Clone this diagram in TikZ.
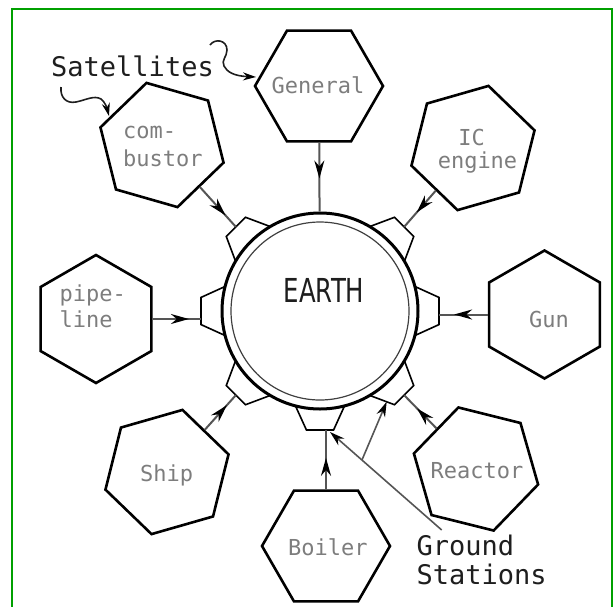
\documentclass[tikz,border=0pt]{standalone}
\usepackage{fontspec}
\usepackage{graphicx}
\usetikzlibrary{shapes.geometric,arrows.meta,decorations.markings,calc}
\newfontfamily\monofont{DejaVu Sans Mono}
\newfontfamily\earthfont{DejaVu Sans}
\definecolor{frameg}{RGB}{0,160,0}
\definecolor{labgray}{RGB}{125,125,125}
\definecolor{conngray}{RGB}{85,85,85}
\definecolor{inkdark}{RGB}{30,30,30}
\begin{document}
\begin{tikzpicture}[x=1pt,y=-1pt,
  hexbox/.style={regular polygon, regular polygon sides=6, minimum size=128pt, inner sep=0pt, draw=black, line width=2.6pt, shape border rotate=#1},
  hexlabel/.style={font=\monofont\fontsize{22}{26}\selectfont, text=labgray, inner sep=0pt},
  bigtext/.style={font=\monofont\fontsize{27}{28.3}\selectfont, text=inkdark, inner sep=0pt},
  conn/.style={draw=conngray, line width=2pt, postaction={decorate, decoration={markings, mark=at position #1 with {\arrow{Stealth[length=18pt,width=10pt,color=black]}}}}},
  station/.style={draw=black, line width=1.6pt, line join=miter},
  pointer/.style={draw=conngray, line width=1.6pt, -{Stealth[length=15pt,width=9pt,color=black]}},
  squig/.style={draw=inkdark, line width=1.6pt, -{Stealth[length=13pt,width=8pt,color=black]}}
]
\useasboundingbox (0,0) rectangle (616,606);
\draw[frameg, line width=2.2pt] (12,9) rectangle (612,620);

% Earth
\node[circle, draw=black, line width=3pt, minimum size=196pt, inner sep=0pt] (earth) at (320,311) {};
\draw[line width=1.2pt, draw=black!75] (earth.center) circle[radius=89pt];
\node[font=\earthfont\fontsize{33}{33}\selectfont, text=inkdark, inner sep=0pt] (earthL) at (324,290) {\scalebox{0.74}[1]{EARTH}};

% ground stations (trapezoids)
\foreach \a in {0,45,90,135,180,225,315}{
  \draw[station] ($(earth.center)+(\a+14.5:98)$) -- ($(earth.center)+(\a+6.5:119.8)$) -- ($(earth.center)+(\a-6.5:119.8)$) -- ($(earth.center)+(\a-14.5:98)$);
}
\coordinate (tR) at ($(earth.center)+(0:119)$);
\coordinate (tDR) at ($(earth.center)+(45:119)$);
\coordinate (tD) at ($(earth.center)+(90:119)$);
\coordinate (tDL) at ($(earth.center)+(135:119)$);
\coordinate (tL) at ($(earth.center)+(180:119)$);
\coordinate (tUL) at ($(earth.center)+(225:119)$);
\coordinate (tUR) at ($(earth.center)+(315:119)$);

% hexagons
\node[hexbox=0] (gen) at (319,86) {};
\node[hexbox=44] (comb) at (162,145) {};
\node[hexbox=16] (ic) at (473,148) {};
\node[hexbox=30] (pipe) at (96,319) {};
\node[hexbox=30] (gun) at (544.5,314.5) {};
\node[hexbox=16] (ship) at (167,472) {};
\node[hexbox=0] (boil) at (326,546) {};
\node[hexbox=46] (reac) at (476,469) {};

% labels
\node[hexlabel, anchor=base] (genL) at (318,93.3) {General};
\node[hexlabel, anchor=base west, font=\monofont\fontsize{22}{28.4}\selectfont] (combL) at (123,138.3) {\begin{tabular}[t]{@{}l@{}}com-\\bustor\end{tabular}};
\node[hexlabel, anchor=base, font=\monofont\fontsize{22}{23.3}\selectfont] (icL) at (477.5,145) {\begin{tabular}[t]{@{}c@{}}IC\kern12pt\\engine\end{tabular}};
\node[hexlabel, anchor=base west, font=\monofont\fontsize{22}{25.7}\selectfont] (pipeL) at (59.5,301.3) {\begin{tabular}[t]{@{}l@{}}pipe-\\line\end{tabular}};
\node[hexlabel, anchor=base] (gunL) at (549,327.7) {Gun};
\node[hexlabel, anchor=base] (shipL) at (166.7,481.7) {Ship};
\node[hexlabel, anchor=base] (boilL) at (327.9,555.3) {Boiler};
\node[hexlabel, anchor=base] (reacL) at (477,478.3) {Reactor};

% connectors
\draw[conn=0.52] (gen) -- (earth);
\draw[conn=0.71] (comb) -- (tUL);
\draw[conn=0.6] (ic) -- (tUR);
\draw[conn=0.75] (pipe) -- (pipe -| tL);
\draw[conn=0.69] (gun) -- (gun -| tR);
\draw[conn=0.53] (boil) -- (boil |- tD);
\draw[conn=0.71] (ship) -- (tDL);
\draw[conn=0.6] (reac) -- (tDR);

% Ground Stations
\node[bigtext, anchor=base west] (gsL) at (416.5,555) {\begin{tabular}[t]{@{}l@{}}Ground\\Stations\end{tabular}};
\coordinate (gsStart) at (441.7,530);
\coordinate (gsTipA) at (330,432);
\coordinate (gsTipB) at (386.7,401.7);
\draw[pointer] (gsStart) -- (gsTipA);
\draw[pointer] ($(gsStart)!0.714!(gsTipA)$) -- (gsTipB);

% Satellites
\node[bigtext, anchor=base] (satL) at (132.5,76.7) {Satellites};
\coordinate (sqA) at (210,45);
\coordinate (sqAend) at (256,77);
\coordinate (sqB) at (61,87);
\coordinate (sqBend) at (109,116);
\draw[squig] (sqA) .. controls (215,38) and (227,40) .. (227,50) .. controls (227,57) and (221,60) .. (224,66) .. controls (227,72) and (234,76) .. (sqAend);
\draw[squig] (sqB) .. controls (60,97) and (66,104) .. (76,102) .. controls (86,100) and (94,95) .. (101,99) .. controls (105,102) and (107,108) .. (sqBend);
\end{tikzpicture}
\end{document}
